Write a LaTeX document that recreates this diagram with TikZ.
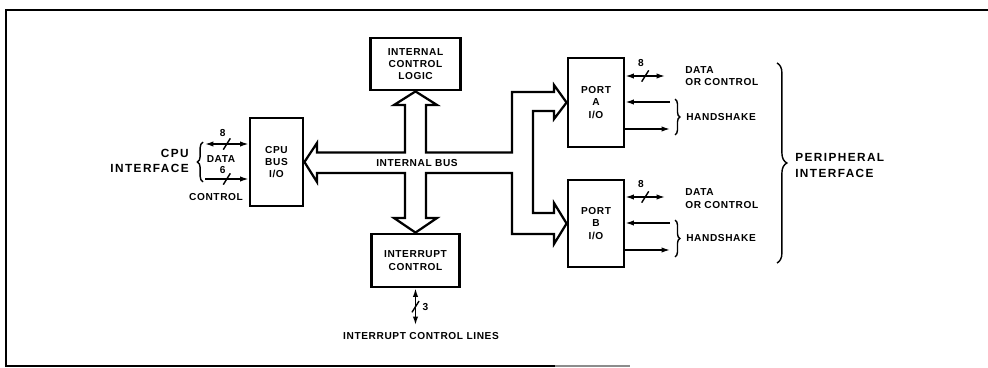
\documentclass[tikz,border=0pt]{standalone}
\usepackage{fontspec}
\setmainfont{Liberation Sans}[LetterSpace=6]
\newfontfamily\hdrfamily{Liberation Sans}[LetterSpace=12]
\usetikzlibrary{arrows.meta,decorations.pathreplacing}
\newcommand{\lblfont}{\fontsize{7.2}{8.7}\selectfont\bfseries}
\newcommand{\hdrfont}{\hdrfamily\fontsize{8.4}{10.8}\selectfont\bfseries}

\begin{document}
\begin{tikzpicture}[
        x=0.025cm, y=-0.025cm,
        box/.style={draw, line width=2pt, align=center, font=\lblfont, inner sep=0pt},
        sig/.style={line width=1pt},
        bus/.style={line width=1.6pt},
        lbl/.style={font=\lblfont, inner sep=0pt},
        hdr/.style={font=\hdrfont, inner sep=0pt},
        slash/.style={inner sep=0pt, minimum width=4pt, minimum height=7pt},
        brc/.style={decorate, decoration={brace, amplitude=#1}, line width=1pt},
        >={Latex[length=6pt,width=3.8pt]},
    ]
    \useasboundingbox (0,0) rectangle (988,368);
    \draw[line width=0.9pt] (988,10) -- (6,10) -- (6,366) -- (555,366);
    \draw[line width=0.9pt, black!45] (555,366) -- (630,366);

    \node[box, minimum width=1.325cm, minimum height=2.2cm] (cpu) at (276.5,162) {CPU\\BUS\\I/O};
    \node[box, minimum width=2.25cm, minimum height=1.3cm] (icl) at (415.5,64) {INTERNAL\\CONTROL\\LOGIC};
    \node[box, minimum width=2.2cm, minimum height=1.325cm] (irq) at (415.5,260.5) {INTERRUPT\\CONTROL};
    \node[box, minimum width=1.4cm, minimum height=2.225cm] (porta) at (596,102.5) {PORT\\A\\I/O};
    \node[box, minimum width=1.4cm, minimum height=2.175cm] (portb) at (596,223.5) {PORT\\B\\I/O};

    \draw[bus] (cpu.east) -- (317,143) -- (317,152.5) -- (405,152.5) -- (405,105) -- (394,105)
        -- (icl.south) -- (437,105) -- (426,105) -- (426,152.5) -- (512,152.5) -- (512,92)
        -- (554,92) -- (554,85) -- (porta.west) -- (554,119) -- (554,111) -- (533,111)
        -- (533,213) -- (554,213) -- (554,203) -- (portb.west) -- (554,244) -- (554,234)
        -- (512,234) -- (512,173) -- (426,173) -- (426,218) -- (437,218) -- (irq.north)
        -- (394,218) -- (405,218) -- (405,173) -- (317,173) -- (317,182) -- cycle;
    \node[lbl] (ibus) at (417,163) {INTERNAL BUS};

    \coordinate (cdat) at (205,144);
    \coordinate (cctl) at (205,179);
    \draw[sig,<->] (cdat) -- node[slash, label={[lbl, xshift=-3pt, label distance=1pt]above:8}] (cs1) {} (cdat -| cpu.west);
    \draw[sig,->] (cctl) -- node[slash, label={[lbl, xshift=-3pt, label distance=-1pt]above:6}] (cs2) {} (cctl -| cpu.west);
    \node[lbl] (cdatl) at (221,159) {DATA};
    \node[lbl] (cctll) at (216,197) {CONTROL};
    \draw[brc=4pt] (203,182) -- (203,142);
    \node[hdr, align=right, anchor=east] (cpuif) at (189,161) {CPU\\INTERFACE};

    \coordinate (adat) at (665,76);
    \coordinate (ahin) at (670,102);
    \coordinate (ahout) at (670,129);
    \draw[sig,<->] (porta.east |- adat) -- node[slash, label={[lbl, xshift=-3pt, label distance=2pt]above:8}] (as) {} (adat);
    \draw[sig,->] (ahin) -- (ahin -| porta.east);
    \draw[sig,->] (porta.east |- ahout) -- (ahout);
    \node[lbl, align=left, anchor=west] (adatl) at (685,76) {DATA\\OR CONTROL};
    \draw[brc=3.5pt] (675,99) -- (675,135);
    \node[lbl, anchor=west] (ahsl) at (686,117) {HANDSHAKE};

    \coordinate (bdat) at (665,197);
    \coordinate (bhin) at (670,223);
    \coordinate (bhout) at (670,250);
    \draw[sig,<->] (portb.east |- bdat) -- node[slash, label={[lbl, xshift=-3pt, label distance=2pt]above:8}] (bs) {} (bdat);
    \draw[sig,->] (bhin) -- (bhin -| portb.east);
    \draw[sig,->] (portb.east |- bhout) -- (bhout);
    \node[lbl, align=left, anchor=west] (bdatl) at (685,198.5) {DATA\\OR CONTROL};
    \draw[brc=3.5pt] (675,220) -- (675,257);
    \node[lbl, anchor=west] (bhsl) at (686,238) {HANDSHAKE};

    \draw[brc=7pt] (777,63) -- (777,263);
    \node[hdr, align=left, anchor=west] (perif) at (795,165.5) {PERIPHERAL\\INTERFACE};

    \coordinate (ilin) at (415.5,325);
    \draw[sig,<->] (irq.south) -- node[slash, label={[lbl, label distance=2pt]right:3}] (is) {} (ilin);
    \node[lbl] (ilinl) at (421,336) {INTERRUPT CONTROL LINES};

    \foreach \s in {cs1,cs2,as,bs,is}
        \draw[sig] (\s.south west) -- (\s.north east);
\end{tikzpicture}
\end{document}
